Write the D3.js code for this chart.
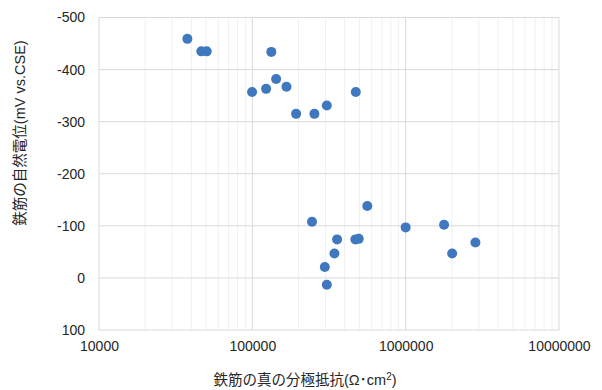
<!DOCTYPE html>
<html>
<head>
<meta charset="utf-8">
<script src="https://cdn.jsdelivr.net/npm/d3@7/dist/d3.min.js"></script>
<style>
  html, body { margin: 0; padding: 0; background: #fff; }
  svg text { font-family: "Liberation Sans", Arial, "Noto Sans CJK JP", sans-serif; fill: #262626; }
</style>
</head>
<body>
<svg id="chart" width="602" height="390"></svg>
<script>
// True polarization resistance of rebar (Ω·cm²)
const resistance = [
  37700, 46500, 50400, 133000, 99600, 123000, 143000, 167000, 193000, 254000, 306000, 473000,
  245000, 562000, 357000, 343000, 297000, 306000, 470000, 494000, 1000000, 1780000, 2010000, 2850000
];
// Half-cell potential of rebar (mV vs. CSE)
const potential = [
  -459, -435, -435, -434, -357, -363, -382, -367, -315, -315, -331, -357,
  -108, -138, -74, -47, -21, 13, -74, -75, -97, -102, -47, -68
];
const xTicks = [10000, 100000, 1000000, 10000000];
const yTicks = [-500, -400, -300, -200, -100, 0, 100];

const svg = d3.select("#chart");
const plotL = 99, plotR = 559, plotT = 17.5, plotB = 330;

const x = d3.scaleLog().domain([10000, 10000000]).range([plotL, plotR]);
const y = d3.scaleLinear().domain([-500, 100]).range([plotT, plotB]);

// minor log gridlines
const minor = [];
for (let d = 10000; d < 10000000; d *= 10) {
  for (let k = 2; k <= 9; k++) minor.push(d * k);
}
svg.append("g").selectAll("line").data(minor).join("line")
  .attr("x1", d => x(d)).attr("x2", d => x(d))
  .attr("y1", plotT).attr("y2", plotB)
  .attr("stroke", "#f0f0f0").attr("stroke-width", 1);

// major gridlines
svg.append("g").selectAll("line").data(xTicks).join("line")
  .attr("x1", d => x(d)).attr("x2", d => x(d))
  .attr("y1", plotT).attr("y2", plotB)
  .attr("stroke", "#d9d9d9").attr("stroke-width", 1);
svg.append("g").selectAll("line").data(yTicks).join("line")
  .attr("x1", plotL).attr("x2", plotR)
  .attr("y1", d => y(d)).attr("y2", d => y(d))
  .attr("stroke", "#d9d9d9").attr("stroke-width", 1);

// axes (labels only, plain hyphen for negatives)
const xAxis = d3.axisBottom(x).tickValues(xTicks).tickFormat(d => String(d)).tickSize(0).tickPadding(11);
const gx = svg.append("g").attr("transform", `translate(0,${plotB})`).call(xAxis);
gx.select(".domain").remove();
gx.selectAll("text").attr("font-size", 14).attr("fill", "#262626")
  .style("font-family", "'Liberation Sans', Arial, sans-serif");

const yAxis = d3.axisLeft(y).tickValues(yTicks).tickFormat(d => String(d)).tickSize(0).tickPadding(14);
const gy = svg.append("g").attr("transform", `translate(${plotL},0)`).call(yAxis);
gy.select(".domain").remove();
gy.selectAll("text").attr("font-size", 14).attr("fill", "#262626")
  .style("font-family", "'Liberation Sans', Arial, sans-serif");

// points
svg.append("g").selectAll("circle").data(resistance).join("circle")
  .attr("cx", d => x(d))
  .attr("cy", (d, i) => y(potential[i]))
  .attr("r", 5)
  .attr("fill", "#3f78bf");

// axis titles
const xt = svg.append("text").attr("x", 305).attr("y", 385).attr("text-anchor", "middle").attr("font-size", 14.5);
xt.append("tspan").text("鉄筋の真の分極抵抗(Ω･cm");
xt.append("tspan").attr("font-size", 10).attr("dy", -5).text("2");
xt.append("tspan").attr("dy", 5).text(")");

svg.append("text")
  .attr("transform", "translate(25,133) rotate(-90)")
  .attr("text-anchor", "middle").attr("font-size", 14.5)
  .text("鉄筋の自然電位(mV vs.CSE)");
</script>
</body>
</html>
